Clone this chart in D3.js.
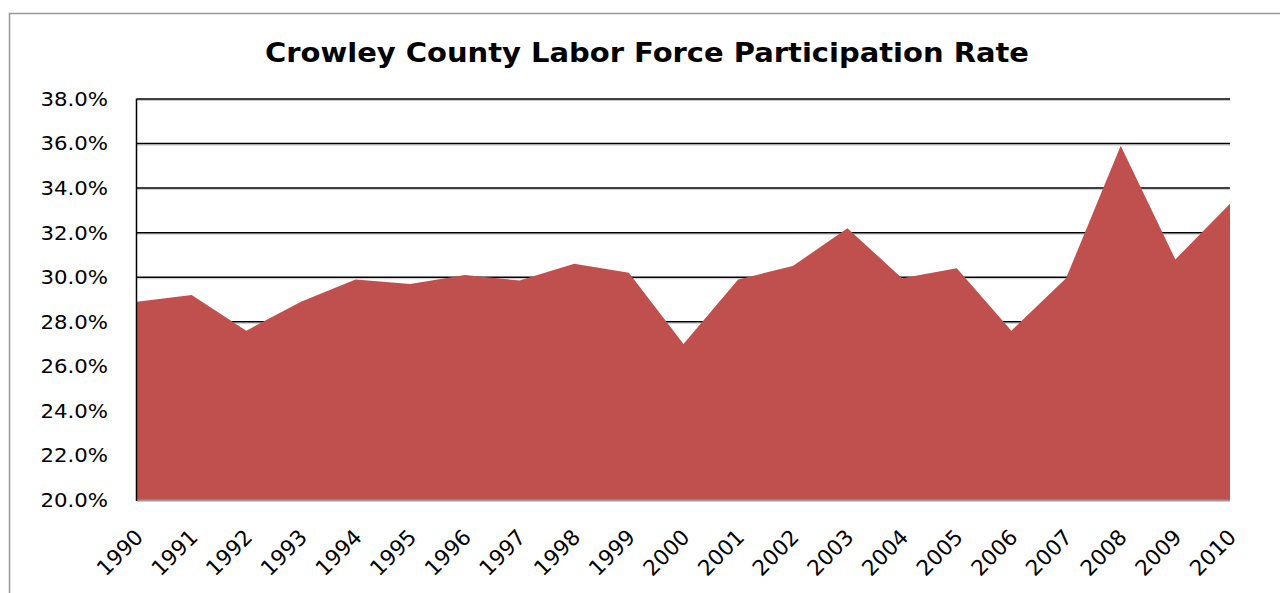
<!DOCTYPE html>
<html><head><meta charset="utf-8">
<script src="https://cdn.jsdelivr.net/npm/d3@7"></script>
<style>body{margin:0;background:#fff}svg{display:block}</style>
</head><body>
<svg id="c" width="1280" height="593"></svg>
<script>
const years = ["1990","1991","1992","1993","1994","1995","1996","1997","1998","1999","2000","2001","2002","2003","2004","2005","2006","2007","2008","2009","2010"];
const rates = [28.9,29.2,27.6,28.9,29.9,29.7,30.1,29.85,30.6,30.2,27.0,29.9,30.5,32.2,29.95,30.4,27.6,29.95,35.9,30.8,33.3];
const yTicks = [20,22,24,26,28,30,32,34,36,38];
const title = "Crowley County Labor Force Participation Rate";

const svg = d3.select("#c");
const x0 = 137, x1 = 1230, yT = 99, yB = 500;
const x = d3.scalePoint().domain(years).range([x0, x1]);
const y = d3.scaleLinear().domain([20, 38]).range([yB, yT]);

// outer frame
svg.append("rect").attr("x",9.5).attr("y",13.5).attr("width",1400).attr("height",700)
  .attr("fill","none").attr("stroke","#999").attr("stroke-width",1.5);

// title
svg.append("text").attr("x",647).attr("y",62).attr("text-anchor","middle")
  .attr("font-family","DejaVu Sans").attr("font-weight","bold").attr("font-size",26)
  .attr("textLength",764).attr("lengthAdjust","spacingAndGlyphs")
  .text(title);

// gridlines
const grid = yTicks.filter(d => d > 20);
svg.append("g").selectAll("line.s").data(grid).join("line")
  .attr("x1",x0).attr("x2",x1).attr("y1",d=>y(d)+1.5).attr("y2",d=>y(d)+1.5)
  .attr("stroke","#c8c8c8").attr("stroke-width",1);
svg.append("g").selectAll("line.g").data(grid).join("line")
  .attr("x1",x0).attr("x2",x1).attr("y1",d=>y(d)).attr("y2",d=>y(d))
  .attr("stroke","#000").attr("stroke-width",1.5);

// area
const area = d3.area().x((d,i)=>x(years[i])).y0(yB).y1(d=>y(d));
svg.append("path").datum(rates).attr("d",area).attr("fill","#C0504D");

// bottom axis (gray)
svg.append("line").attr("x1",x0).attr("x2",x1).attr("y1",yB+0.5).attr("y2",yB+0.5)
  .attr("stroke","#999").attr("stroke-width",2);
// left axis
svg.append("line").attr("x1",x0-0.5).attr("x2",x0-0.5).attr("y1",yT-0.5).attr("y2",yB+1)
  .attr("stroke","#000").attr("stroke-width",1.5);

// y labels
svg.append("g").selectAll("text").data(yTicks).join("text")
  .attr("transform",d=>`translate(108,${y(d)}) scale(1.12,1)`)
  .attr("text-anchor","end").attr("dy","0.36em")
  .attr("font-family","DejaVu Sans").attr("font-size",19).attr("fill","#000")
  .text(d=>d.toFixed(1)+"%");

// x labels
svg.append("g").selectAll("text").data(years).join("text")
  .attr("transform",d=>`translate(${x(d)+2},${yB+33}) rotate(-45)`)
  .attr("text-anchor","end").attr("dy","0.36em")
  .attr("font-family","DejaVu Sans").attr("font-size",21.5).attr("fill","#000")
  .text(d=>d);
</script>
</body></html>
